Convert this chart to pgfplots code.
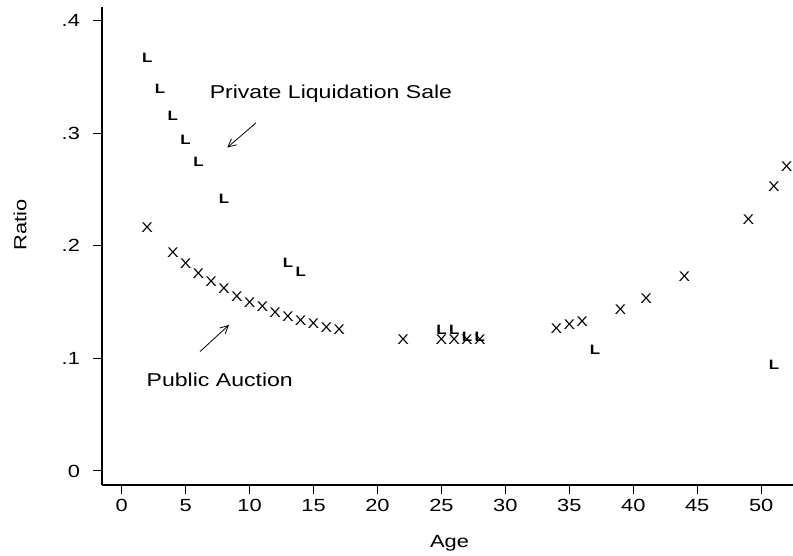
\documentclass[border=0pt]{standalone}
\usepackage{fontspec}
\setmainfont{Liberation Sans}[FakeStretch=1.24]
\usepackage{pgfplots}
\usepackage{pgfplotstable}
\pgfplotsset{compat=1.18}
\usetikzlibrary{arrows.meta}

\pgfplotstableread{
age ratio
2 0.216
4 0.194
5 0.184
6 0.175
7 0.168
8 0.162
9 0.155
10 0.1495
11 0.1455
12 0.1406
13 0.137
14 0.1335
15 0.1306
16 0.1276
17 0.1252
22 0.117
25 0.117
26 0.117
27 0.117
28 0.117
34 0.1267
35 0.1297
36 0.1326
39 0.1436
41 0.1534
44 0.1726
49 0.2232
51 0.2522
52 0.2703
}\auction

\pgfplotstableread{
age ratio
2 0.3665
3 0.339
4 0.315
5 0.294
6 0.2747
8 0.2413
13 0.1845
14 0.177
25 0.125
26 0.125
27 0.119
28 0.119
37 0.1075
51 0.094
}\private

\begin{document}
\begin{tikzpicture}
\begin{axis}[
  at={(0,0)}, anchor=south west, scale only axis,
  width=345.5pt, height=239pt,
  xmin=-1.54, xmax=52.49, ymin=-0.01243, ymax=0.412,
  axis lines*=left,
  axis line style={-, line width=0.6pt, black},
  tick align=outside, major tick length=4.5pt,
  tick style={line width=0.5pt, black},
  xtick={0,5,10,15,20,25,30,35,40,45,50},
  xticklabels={0,5,10,15,20,25,30,35,40,45,50},
  ytick={0,0.1,0.2,0.3,0.4},
  yticklabels={0,.1,.2,.3,.4},
  /pgf/number format/assume math mode=true,
  tick label style={font=\fontsize{8.8}{10}\selectfont},
  yticklabel style={xshift=-3pt},
  xticklabel style={yshift=1pt},
  xlabel={Age}, ylabel={Ratio},
  label style={font=\fontsize{8.8}{10}\selectfont},
  xlabel style={at={(axis description cs:0.503,-0.121)}, anchor=center},
  ylabel style={at={(axis description cs:-0.1187,0.544)}, anchor=center},
  clip=false,
]
\addplot[only marks, black, mark=text, text mark={X}, text mark as node=true,
  text mark style={font=\fontsize{7}{8}\selectfont, inner sep=0pt}] table {\auction};
\addplot[only marks, black, mark=text, text mark={L}, text mark as node=true,
  text mark style={font=\bfseries\fontsize{6.8}{8}\selectfont, inner sep=0pt}] table {\private};
\node[anchor=base, font=\fontsize{9.3}{11}\selectfont] at (axis cs:16.36,0.3304) {Private Liquidation Sale};
\node[anchor=base, font=\fontsize{9.3}{11}\selectfont] at (axis cs:7.67,0.0749) {Public Auction};
\draw[line width=0.4pt, -{Straight Barb[length=4pt,width=4pt]}] (axis cs:10.50,0.3091) -- (axis cs:8.26,0.2872);
\draw[line width=0.4pt, -{Straight Barb[length=4pt,width=4pt]}] (axis cs:6.12,0.106) -- (axis cs:8.39,0.1297);
\end{axis}
\pgfresetboundingbox
\path[use as bounding box] (-51pt,-35.5pt) rectangle (345.5pt,242.5pt);
\end{tikzpicture}
\end{document}
